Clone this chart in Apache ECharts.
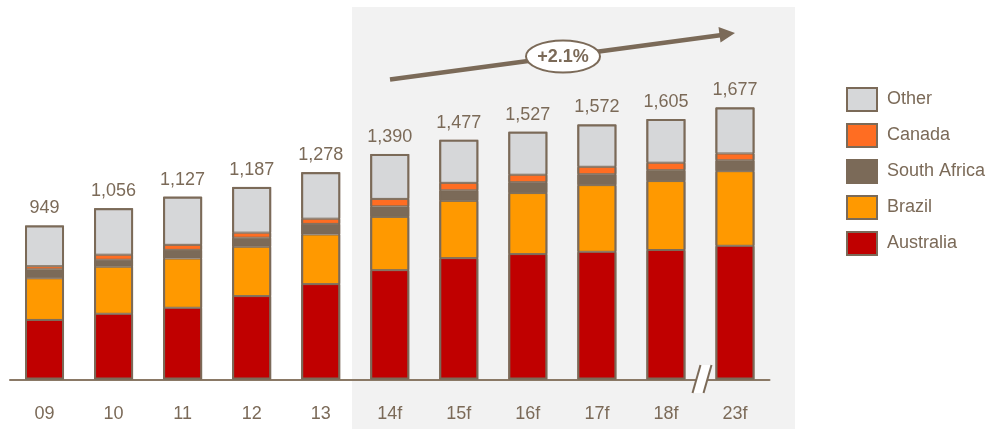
<!DOCTYPE html>
<html>
<head>
<meta charset="utf-8">
<script src="https://cdn.jsdelivr.net/npm/echarts@6/dist/echarts.min.js"></script>
<style>
  html, body { margin: 0; padding: 0; background: #ffffff; }
  #chart { width: 992px; height: 429px; }
</style>
</head>
<body>
<div id="chart"></div>
<script>
// Years (f = forecast)
const categories = ['09', '10', '11', '12', '13', '14f', '15f', '16f', '17f', '18f', '23f'];

// Supply by country, stacked bottom to top
const australia   = [367, 405, 442, 514, 588, 674, 748, 773, 787, 798, 824];
const brazil      = [257, 290, 304, 304, 306, 328, 353, 376, 411, 425, 460];
const southAfrica = [55, 43, 53, 56, 65, 65, 65, 67, 67, 67, 67];
const canada      = [19, 31, 31, 31, 32, 46, 46, 46, 46, 46, 42];
const other       = [251, 287, 297, 282, 287, 277, 265, 265, 261, 269, 284];

const growthLabel = '+2.1%';

const BROWN = '#7b6a58';
const FONT = '"Liberation Sans", Arial, sans-serif';

const totals = categories.map((_, i) =>
  australia[i] + brazil[i] + southAfrica[i] + canada[i] + other[i]);

function segment(name, data, color) {
  return {
    name: name,
    type: 'bar',
    stack: 'total',
    data: data,
    barWidth: 39,
    itemStyle: { color: color, borderColor: BROWN, borderWidth: 1 },
    emphasis: { disabled: true },
    z: 3
  };
}

const chart = echarts.init(document.getElementById('chart'), null, { renderer: 'canvas' });

chart.setOption({
  animation: false,
  backgroundColor: '#ffffff',
  grid: { left: 10, right: 222.5, top: 55, bottom: 49.5, containLabel: false },
  xAxis: {
    type: 'category',
    data: categories,
    axisLine: { lineStyle: { color: '#8a7966', width: 2 } },
    axisTick: { show: false },
    axisLabel: { color: BROWN, fontFamily: FONT, fontSize: 18, margin: 26 }
  },
  yAxis: {
    type: 'value',
    min: 0,
    max: 2000,
    show: false,
    splitLine: { show: false }
  },
  legend: {
    orient: 'vertical',
    left: 846,
    top: 87,
    padding: 0,
    itemWidth: 30,
    itemHeight: 23,
    itemGap: 11,
    icon: 'rect',
    selectedMode: false,
    data: ['Other', 'Canada', 'South Africa', 'Brazil', 'Australia'],
    itemStyle: { borderColor: BROWN, borderWidth: 2 },
    textStyle: { color: BROWN, fontFamily: FONT, fontSize: 18, padding: [0, 0, 0, 5] }
  },
  series: [
    segment('Australia', australia, '#c00000'),
    segment('Brazil', brazil, '#ff9900'),
    segment('South Africa', southAfrica, '#7b6a58'),
    segment('Canada', canada, '#ff6d22'),
    segment('Other', other, '#d6d7d9'),
    // outline of each whole column, carrying the total label
    {
      name: 'Total',
      type: 'bar',
      data: totals,
      barWidth: 39,
      barGap: '-100%',
      itemStyle: { color: 'rgba(0,0,0,0)', borderColor: BROWN, borderWidth: 2 },
      emphasis: { disabled: true },
      z: 4,
      label: {
        show: true,
        position: 'top',
        distance: 8,
        color: BROWN,
        fontFamily: FONT,
        fontSize: 18,
        formatter: p => p.value.toLocaleString('en-US')
      }
    }
  ],
  graphic: [
    // shaded forecast panel
    {
      type: 'rect', z: -10, silent: true,
      shape: { x: 352, y: 7, width: 443, height: 422 },
      style: { fill: '#f2f2f2' }
    },
    // growth arrow
    {
      type: 'line', z: 10, silent: true,
      shape: { x1: 390, y1: 79.5, x2: 722, y2: 35 },
      style: { stroke: BROWN, lineWidth: 4.5 }
    },
    {
      type: 'polygon', z: 10, silent: true,
      shape: { points: [[735, 33], [718.5, 27], [720.5, 42.5]] },
      style: { fill: BROWN }
    },
    {
      type: 'ellipse', z: 11, silent: true,
      shape: { cx: 563, cy: 56.5, rx: 37, ry: 16 },
      style: { fill: '#ffffff', stroke: BROWN, lineWidth: 2 }
    },
    {
      type: 'text', z: 12, silent: true,
      x: 563, y: 57,
      style: {
        text: growthLabel, fill: BROWN, font: 'bold 18px ' + FONT,
        align: 'center', verticalAlign: 'middle'
      }
    },
    // axis break marks between 18f and 23f
    {
      type: 'polygon', z: 20, silent: true,
      shape: { points: [[692.5, 393], [700.5, 365], [711.5, 365], [703.5, 393]] },
      style: { fill: '#ffffff' }
    },
    {
      type: 'line', z: 21, silent: true,
      shape: { x1: 692.5, y1: 393, x2: 700.5, y2: 365 },
      style: { stroke: BROWN, lineWidth: 2 }
    },
    {
      type: 'line', z: 21, silent: true,
      shape: { x1: 703.5, y1: 393, x2: 711.5, y2: 365 },
      style: { stroke: BROWN, lineWidth: 2 }
    }
  ]
});
</script>
</body>
</html>
